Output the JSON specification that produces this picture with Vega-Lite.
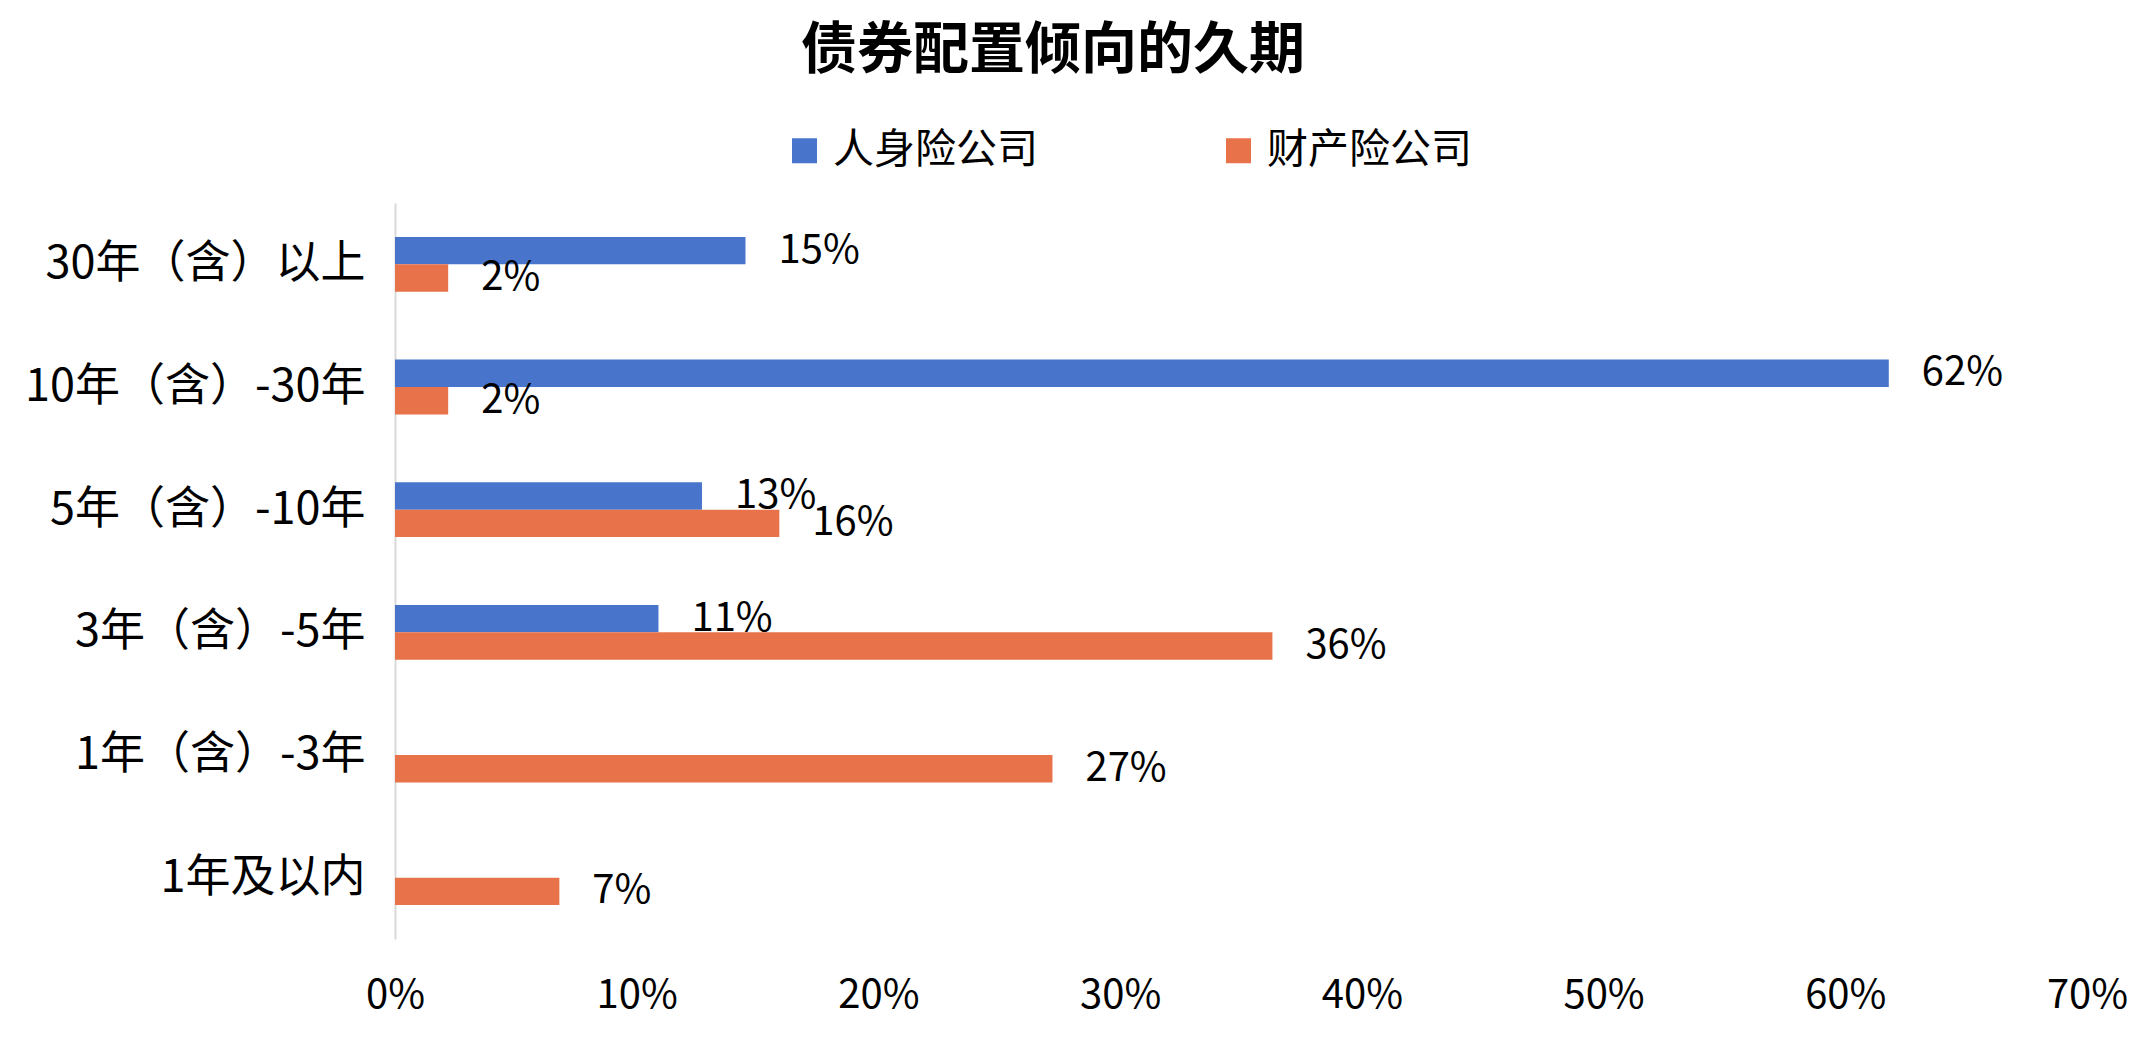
{
  "$schema": "https://vega.github.io/schema/vega-lite/v6.json",
  "width": 1692,
  "height": 736,
  "autosize": {"type": "none"},
  "padding": {"left": 395, "top": 203, "right": 63, "bottom": 123},
  "background": "white",
  "view": {"stroke": null},
  "title": {
    "text": "债券配置倾向的久期",
    "font": "Noto Sans CJK SC",
    "fontSize": 56,
    "fontWeight": "bold",
    "color": "#000000",
    "anchor": "middle",
    "dx": -188,
    "offset": 50
  },
  "data": {
    "values": [
      {"cat": "30年（含）以上", "series": "人身险公司", "value": 0.145, "label": "15%"},
      {"cat": "30年（含）以上", "series": "财产险公司", "value": 0.022, "label": "2%"},
      {"cat": "10年（含）-30年", "series": "人身险公司", "value": 0.618, "label": "62%"},
      {"cat": "10年（含）-30年", "series": "财产险公司", "value": 0.022, "label": "2%"},
      {"cat": "5年（含）-10年", "series": "人身险公司", "value": 0.127, "label": "13%"},
      {"cat": "5年（含）-10年", "series": "财产险公司", "value": 0.159, "label": "16%"},
      {"cat": "3年（含）-5年", "series": "人身险公司", "value": 0.109, "label": "11%"},
      {"cat": "3年（含）-5年", "series": "财产险公司", "value": 0.363, "label": "36%"},
      {"cat": "1年（含）-3年", "series": "财产险公司", "value": 0.272, "label": "27%"},
      {"cat": "1年及以内", "series": "财产险公司", "value": 0.068, "label": "7%"}
    ]
  },
  "encoding": {
    "y": {
      "field": "cat",
      "type": "nominal",
      "sort": null,
      "scale": {"paddingInner": 0.553, "paddingOuter": 0.2765},
      "axis": {
        "title": null,
        "ticks": false,
        "domainColor": "#D9D9D9",
        "domainWidth": 2,
        "labelFont": "Noto Sans CJK SC",
        "labelFontSize": 45,
        "labelColor": "#000000",
        "labelPadding": 30,
        "labelLimit": 0
      }
    },
    "yOffset": {
      "field": "series",
      "type": "nominal",
      "scale": {"domain": ["人身险公司", "财产险公司"]}
    },
    "x": {
      "field": "value",
      "type": "quantitative",
      "scale": {"domain": [0, 0.7], "nice": false},
      "axis": {
        "title": null,
        "values": [0, 0.1, 0.2, 0.3, 0.4, 0.5, 0.6, 0.7],
        "format": ".0%",
        "grid": false,
        "domain": false,
        "ticks": false,
        "labelFont": "Noto Sans CJK SC",
        "labelFontSize": 40,
        "labelColor": "#000000",
        "labelPadding": 36,
        "labelFlush": false
      }
    }
  },
  "layer": [
    {
      "mark": {"type": "bar"},
      "encoding": {
        "color": {
          "field": "series",
          "type": "nominal",
          "scale": {"domain": ["人身险公司", "财产险公司"], "range": ["#4874CB", "#E8734B"]},
          "legend": {
            "title": null,
            "orient": "none",
            "direction": "horizontal",
            "legendX": 389,
            "legendY": -73,
            "symbolType": "square",
            "symbolSize": 625,
            "symbolStrokeWidth": 0,
            "labelFont": "Noto Sans CJK SC",
            "labelFontSize": 41,
            "labelColor": "#000000",
            "labelOffset": 8,
            "columnPadding": 180,
            "labelLimit": 0
          }
        }
      }
    },
    {
      "mark": {
        "type": "text",
        "align": "left",
        "baseline": "middle",
        "dx": 33,
        "font": "Noto Sans CJK SC",
        "fontSize": 40,
        "color": "#000000"
      },
      "encoding": {
        "text": {"field": "label"}
      }
    }
  ]
}
